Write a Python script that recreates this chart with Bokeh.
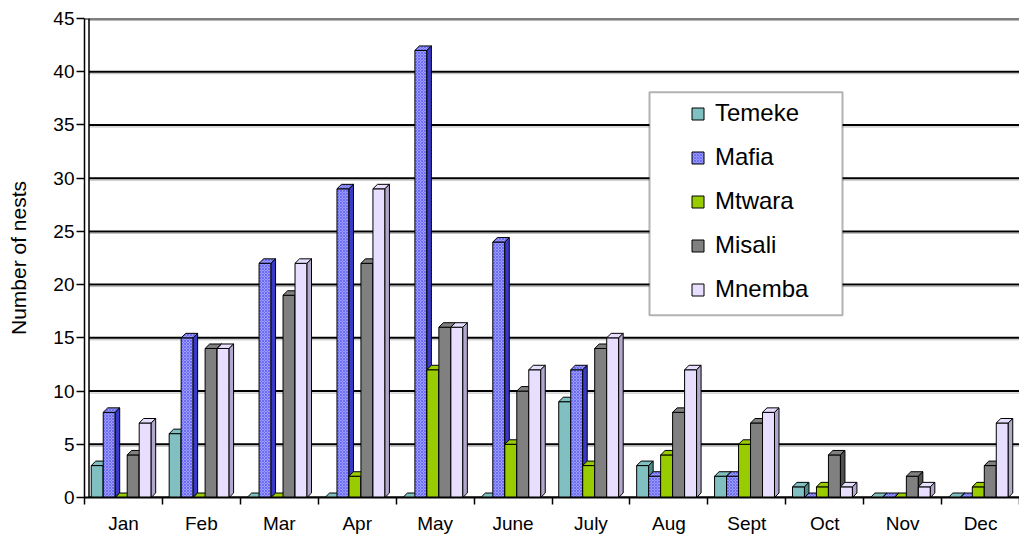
from bokeh.plotting import figure
from bokeh.models import FixedTicker, Legend, LegendItem, BoxAnnotation, Span
from bokeh.embed import file_html
from bokeh.resources import INLINE

# ---------------- data ----------------
months = ["Jan", "Feb", "Mar", "Apr", "May", "June", "July", "Aug", "Sept", "Oct", "Nov", "Dec"]
sites = ["Temeke", "Mafia", "Mtwara", "Misali", "Mnemba"]
temeke = [3, 6, 0, 0, 0, 0, 9, 3, 2, 1, 0, 0]
mafia = [8, 15, 22, 29, 42, 24, 12, 2, 2, 0, 0, 0]
mtwara = [0, 0, 0, 2, 12, 5, 3, 4, 5, 1, 0, 1]
misali = [4, 14, 19, 22, 16, 10, 14, 8, 7, 4, 2, 3]
mnemba = [7, 14, 22, 29, 16, 12, 15, 12, 8, 1, 1, 7]
y_ticks = [0, 5, 10, 15, 20, 25, 30, 35, 40, 45]

series = [temeke, mafia, mtwara, misali, mnemba]

# ---------------- styles ----------------
front_colors = ["#80C0C0", "#9C9CFF", "#99CC00", "#808080", "#E8DEFF"]
top_colors = ["#80C0C0", "#9C9CFF", "#99CC00", "#808080", "#E8DEFF"]
side_colors = ["#4E8A8A", "#3A3AC8", "#668800", "#505050", "#B2A8CC"]
hatches = [None, "x", None, None, None]

FONT = "Liberation Sans"
W, H = 1019, 536
BL, BR, BT, BB = 84, 0, 18, 37
frame_w = W - BL - BR
frame_h = H - BT - BB
n = len(months)
ymax = 45
px_x = frame_w / n          # px per category
px_y = frame_h / ymax       # px per unit

depth_px = 4.5
dx = depth_px / px_x
dy = depth_px / px_y
bw = 1.0 / 6.5              # bar width (gap width 150%)
off = 0.75 * bw

p = figure(width=W, height=H, x_range=(0, n), y_range=(0, ymax),
           output_backend="svg", toolbar_location=None,
           min_border_left=BL, min_border_right=BR, min_border_top=BT, min_border_bottom=BB)
p.outline_line_color = None
p.xgrid.visible = False
p.ygrid.visible = False
p.background_fill_color = "white"

# back-wall gridlines
p.segment(x0=[dx] * len(y_ticks), x1=[n] * len(y_ticks),
          y0=[t - 2.0 / px_y for t in y_ticks], y1=[t - 2.0 / px_y for t in y_ticks],
          line_color="#B8B8B8", line_width=1)
p.segment(x0=[dx] * len(y_ticks), x1=[n] * len(y_ticks), y0=y_ticks, y1=y_ticks,
          line_color="black", line_width=2)
p.segment(x0=[0], x1=[dx], y0=[ymax], y1=[ymax], line_color="black", line_width=2)
p.add_layout(Span(location=dx, dimension="height", line_color="black", line_width=1.5))

legend_items = []
for k, vals in enumerate(series):
    lefts = [c + off + k * bw - dx / 2 for c in range(n)]
    rights = [l + bw for l in lefts]
    fr = p.quad(left=lefts, right=rights, bottom=[0] * n, top=vals,
                fill_color=front_colors[k], line_color="black", line_width=1,
                hatch_pattern=hatches[k], hatch_color="#2020E0", hatch_scale=3, hatch_weight=0.7,
                hatch_alpha=0.55)
    top_xs = [[l, l + dx, r + dx, r] for l, r in zip(lefts, rights)]
    top_ys = [[v, v + dy, v + dy, v] for v in vals]
    p.patches(xs=top_xs, ys=top_ys, fill_color=top_colors[k], line_color="black", line_width=1,
              hatch_pattern=hatches[k], hatch_color="#2020E0", hatch_scale=3, hatch_weight=0.7,
              hatch_alpha=0.55)
    side_xs = [[r, r + dx, r + dx, r] for r in rights]
    side_ys = [[0, dy, v + dy, v] for v in vals]
    p.patches(xs=side_xs, ys=side_ys, fill_color=side_colors[k], line_color="black", line_width=1)
    legend_items.append(LegendItem(label=sites[k], renderers=[fr]))

# axes
p.xaxis.ticker = FixedTicker(ticks=[c + 0.5 for c in range(n)], minor_ticks=list(range(n + 1)))
p.xaxis.major_label_overrides = {c + 0.5: m for c, m in enumerate(months)}
p.xaxis.major_tick_out = 0
p.xaxis.major_tick_in = 0
p.xaxis.minor_tick_out = 7
p.xaxis.minor_tick_in = 0
p.xaxis.minor_tick_line_color = "black"
p.xaxis.minor_tick_line_width = 1.5
p.xaxis.major_label_standoff = 8
p.xaxis.axis_line_color = "black"
p.xaxis.axis_line_width = 2
p.xaxis.major_label_text_font = FONT
p.xaxis.major_label_text_font_size = "19px"
p.xaxis.major_label_text_color = "black"

p.yaxis.ticker = FixedTicker(ticks=y_ticks, minor_ticks=[])
p.yaxis.major_tick_out = 8
p.yaxis.major_tick_in = 0
p.yaxis.major_tick_line_width = 1.5
p.yaxis.major_tick_line_color = "black"
p.yaxis.major_label_standoff = 2
p.yaxis.axis_line_color = "black"
p.yaxis.axis_line_width = 1.5
p.yaxis.major_label_text_font = FONT
p.yaxis.major_label_text_font_size = "19px"
p.yaxis.major_label_text_color = "black"
p.yaxis.axis_label = "Number of nests"
p.yaxis.axis_label_text_font = FONT
p.yaxis.axis_label_text_font_size = "21px"
p.yaxis.axis_label_text_font_style = "normal"
p.yaxis.axis_label_text_color = "black"
p.yaxis.axis_label_standoff = 20

# legend box (layout element, screen px -> data units)
box_l, box_r, box_t, box_b = 649, 842, 92, 316
p.add_layout(BoxAnnotation(left=(box_l - BL) / px_x, right=(box_r - BL) / px_x,
                           top=ymax - (box_t - BT) / px_y,
                           bottom=ymax - (box_b - BT) / px_y,
                           fill_color="white", fill_alpha=1.0, line_color="black", line_width=2))

legend = Legend(items=legend_items, location=(690 - BL, (BT + frame_h) - 305),
                padding=0, margin=0, spacing=16, glyph_width=15, glyph_height=15,
                label_standoff=10, label_text_font=FONT, label_text_font_size="24px",
                label_text_color="black", border_line_alpha=0, background_fill_alpha=0)
p.add_layout(legend, "center")

open("out.html", "w").write(file_html(p, INLINE))
